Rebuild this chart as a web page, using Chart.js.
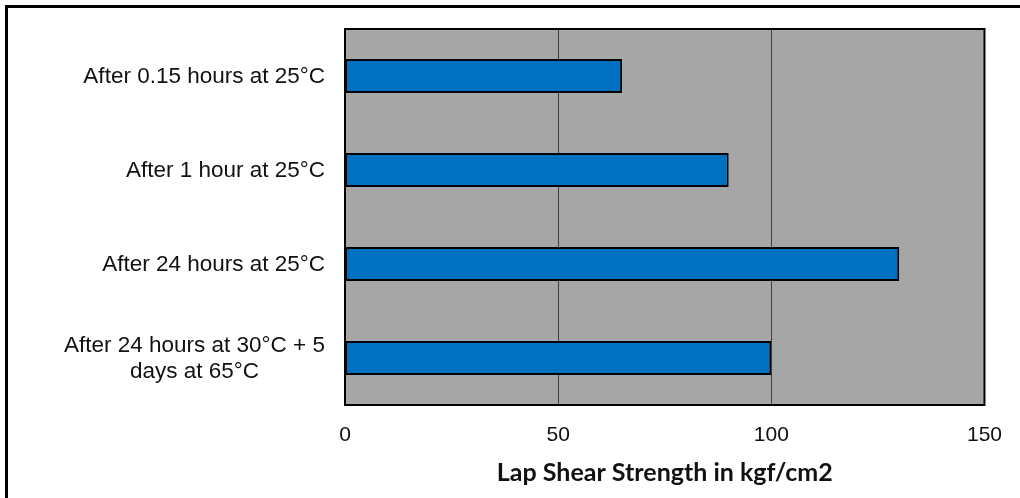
<!DOCTYPE html>
<html>
<head>
<meta charset="utf-8">
<script src="https://cdn.jsdelivr.net/npm/chart.js@4"></script>
<style>
body { margin:0; background:#fff; }
#wrap { width:1020px; height:498px; position:relative; }
</style>
</head>
<body>
<div id="wrap"><canvas id="chart1"></canvas></div>
<script>
const categories = [
  "After 0.15 hours at 25°C",
  "After 1 hour at 25°C",
  "After 24 hours at 25°C",
  ["After 24 hours at 30°C + 5", "days at 65°C"]
]
const strength = [65, 90, 130, 100]
const xTicks = [0, 50, 100, 150]
const xTitle = "Lap Shear Strength in kgf/cm2"

const labelFont = '22.5px "Liberation Sans", Arial, sans-serif'

// gray plot area, frame and the outer border lines
const frame = {
  id: 'frame',
  beforeDatasetsDraw(chart) {
    const a = chart.chartArea, ctx = chart.ctx
    ctx.save()
    ctx.fillStyle = '#a6a6a6'
    ctx.fillRect(a.left, a.top, a.right - a.left, a.bottom - a.top)
    // grid lines drawn over the fill
    const x = chart.scales.x
    ctx.strokeStyle = '#404040'
    ctx.lineWidth = 1
    xTicks.forEach(v => {
      if (v == xTicks[0] || v == xTicks[xTicks.length-1]) return
      const px = Math.round(x.getPixelForValue(v)) + 0.5
      ctx.beginPath(); ctx.moveTo(px, a.top); ctx.lineTo(px, a.bottom); ctx.stroke()
    })
    ctx.restore()
  },
  afterDraw(chart) {
    const a = chart.chartArea, ctx = chart.ctx
    ctx.save()
    ctx.strokeStyle = '#000'
    ctx.lineWidth = 2
    ctx.strokeRect(a.left, a.top, a.right - a.left, a.bottom - a.top)
    ctx.fillStyle = '#000'
    ctx.fillRect(5, 5, chart.width - 5, 3)
    ctx.fillRect(5, 5, 3, chart.height - 5)
    // category labels: block right aligned, lines centred in the block
    const y = chart.scales.y
    ctx.font = labelFont
    ctx.fillStyle = '#111'
    ctx.textBaseline = 'middle'
    ctx.textAlign = 'center'
    const lh = 26
    categories.forEach((lab, i) => {
      const lines = Array.isArray(lab) ? lab : [lab]
      const w = Math.max(...lines.map(l => ctx.measureText(l).width))
      const cx = a.left - 20 - w / 2
      const cy = y.getPixelForTick(i) + 1
      lines.forEach((l, j) => {
        ctx.fillText(l, cx, cy + (j - (lines.length - 1) / 2) * lh)
      })
    })
    ctx.restore()
  }
}

new Chart(document.getElementById('chart1'), {
  type: 'bar',
  data: {
    labels: categories,
    datasets: [{
      data: strength,
      backgroundColor: '#0070c0',
      borderColor: '#000',
      borderWidth: 2,
      borderSkipped: false,
      categoryPercentage: 1,
      barPercentage: 0.36
    }]
  },
  options: {
    indexAxis: 'y',
    responsive: true,
    maintainAspectRatio: false,
    animation: false,
    layout: { padding: { top: 29, right: 34, left: 0, bottom: 0 } },
    plugins: { legend: { display: false }, tooltip: { enabled: false } },
    scales: {
      x: {
        min: 0, max: 150,
        afterBuildTicks: s => { s.ticks = xTicks.map(v => ({ value: v })) },
        afterFit: s => { s.height = 93 },
        grid: { display: false, drawTicks: false },
        border: { display: false },
        ticks: {
          padding: 18,
          color: '#111',
          font: { family: '"Liberation Sans", Arial, sans-serif', size: 21 }
        },
        title: {
          display: true,
          text: xTitle,
          color: '#111',
          font: { family: 'Lato, sans-serif', size: 25, weight: 'bold' },
          padding: { top: 10, bottom: 10 }
        }
      },
      y: {
        afterFit: s => { s.width = 345 },
        grid: { display: false, drawTicks: false },
        border: { display: false },
        ticks: { display: false }
      }
    }
  },
  plugins: [frame]
})
</script>
</body>
</html>
